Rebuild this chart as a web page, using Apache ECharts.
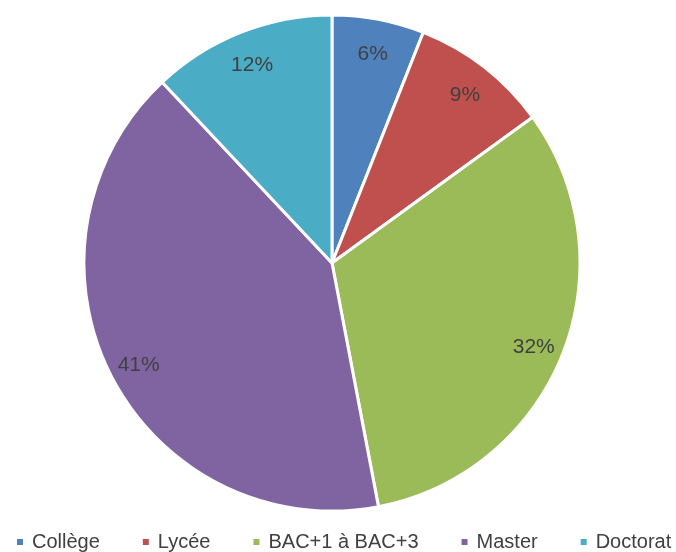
<!DOCTYPE html>
<html>
<head>
<meta charset="utf-8">
<script src="https://cdn.jsdelivr.net/npm/echarts@6/dist/echarts.min.js"></script>
<style>
  html, body { margin: 0; padding: 0; background: #fff; }
  #chart { width: 676px; height: 552px; }
</style>
</head>
<body>
<div id="chart"></div>
<script>
const categories = ['Collège', 'Lycée', 'BAC+1 à BAC+3', 'Master', 'Doctorat'];
const shares = [6, 9, 32, 41, 12];
const colors = ['#4F81BD', '#C0504D', '#9BBB59', '#8064A2', '#4BACC6'];

const font = "'Liberation Sans', Arial, sans-serif";
const pieData = categories.map((name, i) => ({ name, value: shares[i] }));

const chart = echarts.init(document.getElementById('chart'));
chart.setOption({
  color: colors,
  animation: false,
  legend: {
    left: 10,
    top: 527,
    width: 676,
    icon: 'rect',
    itemWidth: 8,
    itemHeight: 8,
    itemGap: 41,
    textStyle: { fontFamily: font, fontSize: 20, color: '#404040', padding: [0, 0, 0, 3] },
    data: categories
  },
  series: [
    {
      type: 'pie',
      center: [332, 263],
      radius: [0, 248],
      startAngle: 90,
      clockwise: true,
      itemStyle: { borderColor: '#fff', borderWidth: 3 },
      label: { show: false },
      labelLine: { show: false },
      data: pieData
    },
    {
      // transparent ring only used to place the % labels near the rim
      type: 'pie',
      center: [332, 267],
      radius: [180, 248],
      startAngle: 90,
      clockwise: true,
      silent: true,
      itemStyle: { color: 'rgba(0,0,0,0)' },
      label: {
        show: true,
        position: 'inside',
        formatter: p => p.value + '%',
        fontFamily: font,
        fontSize: 21,
        color: '#404040'
      },
      labelLine: { show: false },
      data: pieData
    }
  ]
});
</script>
</body>
</html>
